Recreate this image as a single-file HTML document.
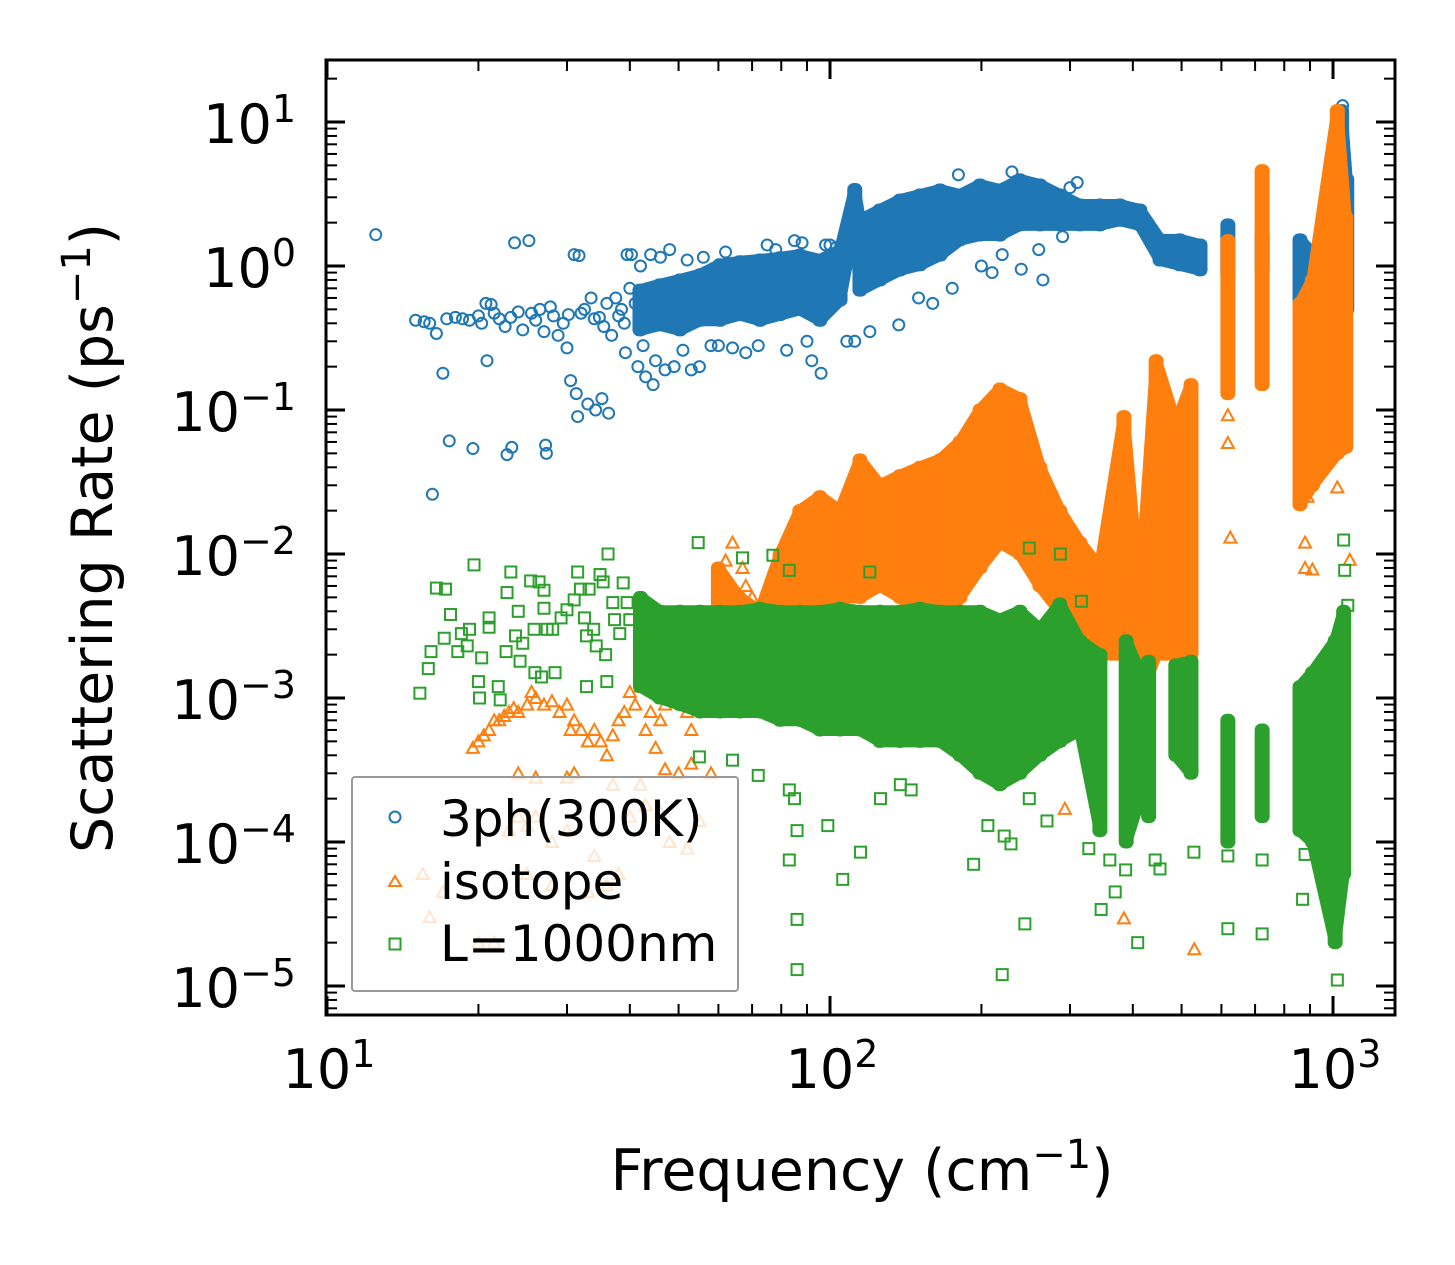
<!DOCTYPE html>
<html><head><meta charset="utf-8"><style>
html,body{margin:0;padding:0;background:#fff;}
svg{display:block;font-family:"DejaVu Sans","Liberation Sans",sans-serif;}
</style></head><body>
<svg id="chart" width="1455" height="1265" viewBox="0 0 1455 1265" xmlns="http://www.w3.org/2000/svg">
<rect width="1455" height="1265" fill="#fff"/>
<g id="marks"></g>
<g id="axes"></g>
<g id="legend">
  <rect x="352" y="777" width="386" height="214" fill="#fff" fill-opacity="0.8" stroke="#999" stroke-width="2" rx="3"/>
  <circle cx="395" cy="817" r="5.5" fill="none" stroke="#1f77b4" stroke-width="2"/>
  <text x="440" y="836" font-size="50">3ph(300K)</text>
  <path d="M395,876 L401,886 L389,886 Z" fill="none" stroke="#ff7f0e" stroke-width="2"/>
  <text x="440" y="899" font-size="50">isotope</text>
  <rect x="389.5" y="938.5" width="11" height="11" fill="none" stroke="#2ca02c" stroke-width="2"/>
  <text x="440" y="961" font-size="50">L=1000nm</text>
</g>
<text x="862" y="1190" font-size="57" text-anchor="middle">Frequency (cm<tspan dy="-22" font-size="40">−1</tspan><tspan dy="22">)</tspan></text>
<text transform="translate(112,538) rotate(-90)" font-size="57" text-anchor="middle">Scattering Rate (ps<tspan dy="-22" font-size="40">−1</tspan><tspan dy="22">)</tspan></text>
</svg>
<script>
// ---- data (frequency cm^-1, rate ps^-1) ----
// dense clouds as [freq, low, high] columns
const blueBands = [[41.9,0.36,0.68],[45.9,0.39,0.74],[50.3,0.36,0.80],[55.2,0.42,0.87],[60.4,0.42,1.02],[66.2,0.46,1.07],[72.6,0.42,1.10],[79.6,0.46,1.14],[87.1,0.50,1.19],[95.5,0.42,1.10],[104.7,0.58,1.29],[112,2.0,3.4],[114.7,0.68,2.08],[125.7,0.80,2.45],[137.8,0.94,2.87],[151,1.02,3.11],[165.5,1.19,3.37],[181.3,1.52,3.11],[198.7,1.64,3.65],[217.7,1.64,3.37],[238.6,1.93,3.96],[261.4,1.93,3.65],[286.4,1.93,3.11],[314,1.93,2.65],[344,1.93,2.65],[377,2.08,2.65],[413,1.93,2.45],[453,1.10,1.52],[496,1.02,1.52],[544,0.94,1.40],[618,0.87,1.93],[723,0.94,1.64],[860,0.55,1.52],[895,0.6,1.3],[1040,0.68,12],[1065,0.5,4]];
const orangeBands = [[60,0.0013,0.008],[66,0.001,0.005],[72.6,0.0015,0.004],[79.6,0.003,0.01],[87.1,0.004,0.02],[95.5,0.004,0.025],[104.7,0.005,0.02],[114.7,0.005,0.045],[125.7,0.006,0.03],[137.8,0.005,0.035],[151,0.004,0.04],[165.5,0.003,0.045],[181.3,0.005,0.06],[198.7,0.008,0.1],[217.7,0.012,0.14],[238.6,0.01,0.12],[261.4,0.006,0.04],[286.4,0.004,0.02],[314,0.003,0.012],[344,0.002,0.008],[384,0.002,0.09],[413,0.001,0.005],[445,0.002,0.22],[487,0.002,0.08],[522,0.002,0.15],[618,0.13,1.5],[723,0.15,4.6],[860,0.022,0.55],[910,0.03,0.8],[1020,0.05,12],[1060,0.055,2.2]];
const greenBands = [[42,0.0012,0.005],[45.9,0.001,0.004],[50.3,0.0009,0.004],[55.2,0.0008,0.004],[60.4,0.0008,0.004],[66.2,0.0008,0.004],[72.6,0.0008,0.0042],[79.6,0.0007,0.004],[87.1,0.0007,0.004],[95.5,0.0006,0.004],[104.7,0.0006,0.0042],[114.7,0.0006,0.004],[125.7,0.0005,0.004],[137.8,0.0005,0.004],[151,0.0005,0.0042],[165.5,0.0005,0.004],[181.3,0.0004,0.004],[198.7,0.0003,0.004],[217.7,0.00025,0.0035],[238.6,0.0003,0.004],[261.4,0.0004,0.003],[286.4,0.0005,0.0045],[314,0.0006,0.0025],[344,0.00012,0.002],[388,0.0001,0.0025],[413,0.0002,0.0015],[430,0.00015,0.0018],[487,0.0004,0.0017],[522,0.0003,0.0018],[618,0.0001,0.0007],[723,0.00015,0.0006],[860,0.00012,0.0012],[910,0.0001,0.0015],[1010,0.00002,0.0025],[1050,0.00006,0.004]];
// scattered points [freq, rate]
const bluePts = [[12.5,1.65],[15,0.42],[15.6,0.41],[16,0.40],[16.5,0.34],[17,0.18],[17.3,0.43],[17.5,0.061],[16.2,0.026],[18,0.44],[18.6,0.43],[19.2,0.42],[19.5,0.054],[20,0.45],[20.3,0.40],[20.7,0.55],[20.8,0.22],[21.2,0.54],[21.5,0.47],[22,0.43],[22.6,0.38],[22.8,0.049],[23.2,0.44],[23.3,0.055],[23.6,1.45],[24,0.48],[24.5,0.36],[25.2,1.5],[25.5,0.47],[26,0.42],[26.5,0.5],[27,0.35],[27.2,0.057],[27.3,0.05],[27.8,0.52],[28.2,0.45],[28.8,0.33],[29.5,0.4],[30,0.27],[30.2,0.46],[30.5,0.16],[31,1.2],[31.3,0.13],[31.7,1.18],[32,0.47],[31.5,0.09],[32.5,0.5],[33,0.11],[33.5,0.6],[34,0.43],[34.2,0.1],[34.8,0.44],[35.2,0.12],[35.5,0.38],[36,0.55],[36.3,0.095],[36.8,0.33],[37.5,0.6],[38,0.45],[38.5,0.5],[39,0.4],[39.2,0.25],[39.5,1.2],[40,0.7],[40.3,1.2],[41,0.55],[41.5,0.2],[42,1.0],[42.5,0.28],[43,0.17],[44,1.2],[44.5,0.15],[45,0.22],[46,1.15],[47,0.19],[48,1.3],[49,0.2],[51,0.26],[52,1.1],[53,0.19],[55,0.2],[56,1.15],[58,0.28],[60,0.28],[62,1.25],[64,0.27],[68,0.25],[72,0.28],[75,1.4],[78,1.3],[82,0.26],[85,1.5],[88,1.45],[90,0.3],[92,0.22],[96,0.18],[98,1.4],[100,1.4],[103,1.35],[108,0.3],[112,0.3],[120,0.35],[137,0.39],[150,0.6],[160,0.55],[175,0.7],[200,1.0],[210,0.9],[220,1.2],[240,0.95],[260,1.3],[265,0.8],[180,4.3],[230,4.5],[235,3.9],[300,3.5],[310,3.8],[280,3.2],[290,1.6],[1045,13],[1040,11],[1030,9.5]];
const orangePts = [[19.5,0.00045],[20,0.0005],[20.5,0.00055],[21,0.0006],[21.5,0.0007],[22,0.0007],[22.5,0.00075],[23,0.0008],[23.5,0.00085],[24,0.0008],[25,0.0009],[25.5,0.0011],[26,0.001],[27,0.0009],[28,0.00095],[29,0.0008],[30,0.0009],[30.5,0.0006],[31,0.0007],[32,0.0006],[33,0.0005],[34,0.0006],[35,0.0005],[36,0.0004],[37,0.00055],[38,0.0007],[39,0.0008],[40,0.0011],[41,0.0009],[42,0.0012],[43,0.0006],[44,0.0008],[45,0.00045],[46,0.0007],[47,0.0009],[48,0.0011],[50,0.0013],[52,0.0008],[53,0.0006],[55,0.0011],[57,0.0015],[58,0.0009],[60,0.002],[62,0.0025],[65,0.0035],[67,0.008],[70,0.005],[72,0.0022],[75,0.004],[78,0.0035],[62,0.009],[64,0.012],[68,0.006],[24,0.0003],[26,0.00028],[31,0.0003],[37,0.00025],[42,0.00025],[50,0.0003],[53,0.00035],[58,0.0003],[30,0.00028],[47,0.00032],[16,0.00003],[15.5,0.00006],[17,0.000045],[20,0.00002],[21.5,0.00002],[23,0.00012],[24,0.00015],[25,0.00013],[26,0.00015],[28,0.0001],[30,0.00012],[34,0.00008],[36,0.00005],[38,0.00006],[40,0.00015],[43,0.00018],[46,0.00016],[48,0.0001],[52,0.00009],[55,0.00014],[25,0.00006],[28,0.00005],[33,0.000045],[293,0.00017],[384,0.0000295],[530,0.000018],[625,0.013],[880,0.012],[880,0.008],[910,0.0078],[1080,0.0091],[1020,0.029],[618,0.092],[618,0.059],[890,0.025],[900,0.04]];
const greenPts = [[15.3,0.00108],[16.5,0.0058],[17.2,0.0057],[15.9,0.0016],[16.1,0.0021],[17.1,0.0026],[17.6,0.0038],[18.2,0.0021],[19,0.0023],[18.5,0.0028],[19.2,0.003],[19.6,0.0084],[20,0.0013],[20.1,0.001],[20.3,0.0019],[21,0.0036],[21,0.0031],[21.9,0.0012],[22.1,0.00097],[22.7,0.0021],[22.8,0.0054],[23.2,0.0075],[24,0.004],[23.7,0.0027],[24.2,0.0018],[24.5,0.0024],[25.4,0.0065],[26.4,0.0064],[25.8,0.003],[27,0.0056],[27,0.0042],[27.4,0.003],[25.9,0.0015],[26.7,0.0014],[28.4,0.0015],[28.1,0.003],[29.2,0.0036],[30,0.0041],[31,0.0048],[31.5,0.0075],[31.9,0.0057],[32.5,0.0036],[33.2,0.0057],[32.8,0.0027],[33.9,0.003],[34.3,0.0023],[34.9,0.0072],[35.4,0.0064],[36,0.0013],[36.2,0.01],[32.8,0.0012],[35.8,0.002],[37,0.0046],[37.3,0.0035],[38.2,0.0028],[38.8,0.0063],[39.5,0.0046],[40,0.0035],[55,0.00039],[64,0.00037],[72,0.00029],[83,0.00023],[85,0.0002],[86,0.00012],[83,0.000075],[86,0.000029],[86,0.000013],[99,0.00013],[106,0.000055],[115,0.000085],[126,0.0002],[138,0.00025],[145,0.00023],[193,0.00007],[220,0.000012],[244,0.000027],[206,0.00013],[222,0.00011],[229,0.000097],[249,0.0002],[270,0.00014],[287,0.0011],[287,0.01],[316,0.0047],[327,0.00009],[343,0.00014],[346,0.000034],[360,0.000075],[369,0.000045],[387,0.000064],[409,0.00002],[443,0.000075],[453,0.000065],[529,0.000085],[618,0.000025],[618,0.00008],[723,0.000023],[723,0.000075],[870,0.00004],[880,0.000082],[884,0.00017],[1020,0.000011],[1050,0.0125],[1055,0.0077],[1070,0.0044],[54.7,0.012],[67,0.0094],[77,0.0098],[83,0.0077],[120,0.0075],[249,0.011]];
const xTickVals = [10,100,1000];
const xTickLabels = ["1","2","3"];
const yTickVals = [10,1,0.1,0.01,0.001,0.0001,0.00001];
const yTickLabels = ["1","0","−1","−2","−3","−4","−5"];

// ---- scales ----
const L=326, R=1395, T=60, B=1015;
function X(f){return 327 + (Math.log10(f)-1)*503;}
function Y(r){return 266 - Math.log10(r)*144;}
const NS="http://www.w3.org/2000/svg";
const marks=document.getElementById('marks');
const axes=document.getElementById('axes');
function mk(tag,attrs,parent){const e=document.createElementNS(NS,tag);for(const k in attrs)e.setAttribute(k,attrs[k]);parent.appendChild(e);return e;}

const clip=mk('clipPath',{id:'pc'},marks);
mk('rect',{x:L,y:T,width:R-L,height:B-T},clip);
const layer=mk('g',{'clip-path':'url(#pc)'},marks);

const series=[
 {name:'3ph',color:'#1f77b4',bands:blueBands,pts:bluePts,shape:'circle'},
 {name:'isotope',color:'#ff7f0e',bands:orangeBands,pts:orangePts,shape:'tri'},
 {name:'l1000nm',color:'#2ca02c',bands:greenBands,pts:greenPts,shape:'sq'}];
series.forEach(s=>{
  const g=mk('g',{},layer);
  
  
  const bs=s.bands;
  bs.forEach((b,i)=>{
    const x=X(b[0]), y1=Y(b[2])-6, y2=Y(b[1])+6;
    const e=mk('rect',{x:x-7,y:y1,width:14,height:y2-y1,rx:6,fill:s.color,stroke:s.color,'stroke-width':1},g);
    
    
    if(i<bs.length-1){
      const n=bs[i+1];
      if(Math.log10(n[0])-Math.log10(b[0])<0.05){
        const p=`${x},${Y(b[2])} ${X(n[0])},${Y(n[2])} ${X(n[0])},${Y(n[1])} ${x},${Y(b[1])}`;
        const q=mk('polygon',{points:p,fill:s.color,stroke:s.color,'stroke-width':12,'stroke-linejoin':'round'},g);
        
        
      }
    }
  });
  s.pts.forEach(p=>{
    const x=X(p[0]), y=Y(p[1]);
    let e;
    if(s.shape==='circle') e=mk('circle',{cx:x,cy:y,r:5.5,fill:'none',stroke:s.color,'stroke-width':2},g);
    else if(s.shape==='tri') e=mk('path',{d:`M${x},${y-6} L${x+6},${y+5} L${x-6},${y+5} Z`,fill:'none',stroke:s.color,'stroke-width':2},g);
    else e=mk('rect',{x:x-5.5,y:y-5.5,width:11,height:11,fill:'none',stroke:s.color,'stroke-width':2},g);
    
    
  });
});

// ---- axes frame ----
const frame=mk('rect',{x:L,y:T,width:R-L,height:B-T,fill:'none',stroke:'#000','stroke-width':3},axes);


for(let d=-6; d<=1; d++){
  for(let m=1;m<=9;m++){
    const v=m*Math.pow(10,d), y=Y(v);
    if(y<T+1||y>B-1) continue;
    const len=m===1?19:11, w=m===1?3:2;
    mk('line',{x1:L,x2:L+len,y1:y,y2:y,stroke:'#000','stroke-width':w},axes);
    mk('line',{x1:R,x2:R-len,y1:y,y2:y,stroke:'#000','stroke-width':w},axes);
  }
}
for(let d=1; d<=3; d++){
  for(let m=1;m<=9;m++){
    const v=m*Math.pow(10,d), x=X(v);
    if(x<L+1||x>R-1) continue;
    const len=m===1?19:11, w=m===1?3:2;
    mk('line',{x1:x,x2:x,y1:B,y2:B-len,stroke:'#000','stroke-width':w},axes);
    mk('line',{x1:x,x2:x,y1:T,y2:T+len,stroke:'#000','stroke-width':w},axes);
  }
}
yTickVals.forEach((v,i)=>{
  const t=mk('text',{x:296,y:Y(v)+21,'font-size':54,'text-anchor':'end'},axes);
  
  
  t.appendChild(document.createTextNode('10'));
  const s=mk('tspan',{dy:-21,'font-size':38},t); s.textContent=yTickLabels[i];
});
xTickVals.forEach((v,i)=>{
  const t=mk('text',{x:X(v)+2,y:1088,'font-size':54,'text-anchor':'middle'},axes);
  
  
  t.appendChild(document.createTextNode('10'));
  const s=mk('tspan',{dy:-21,'font-size':38},t); s.textContent=xTickLabels[i];
});
</script>
</body></html>
